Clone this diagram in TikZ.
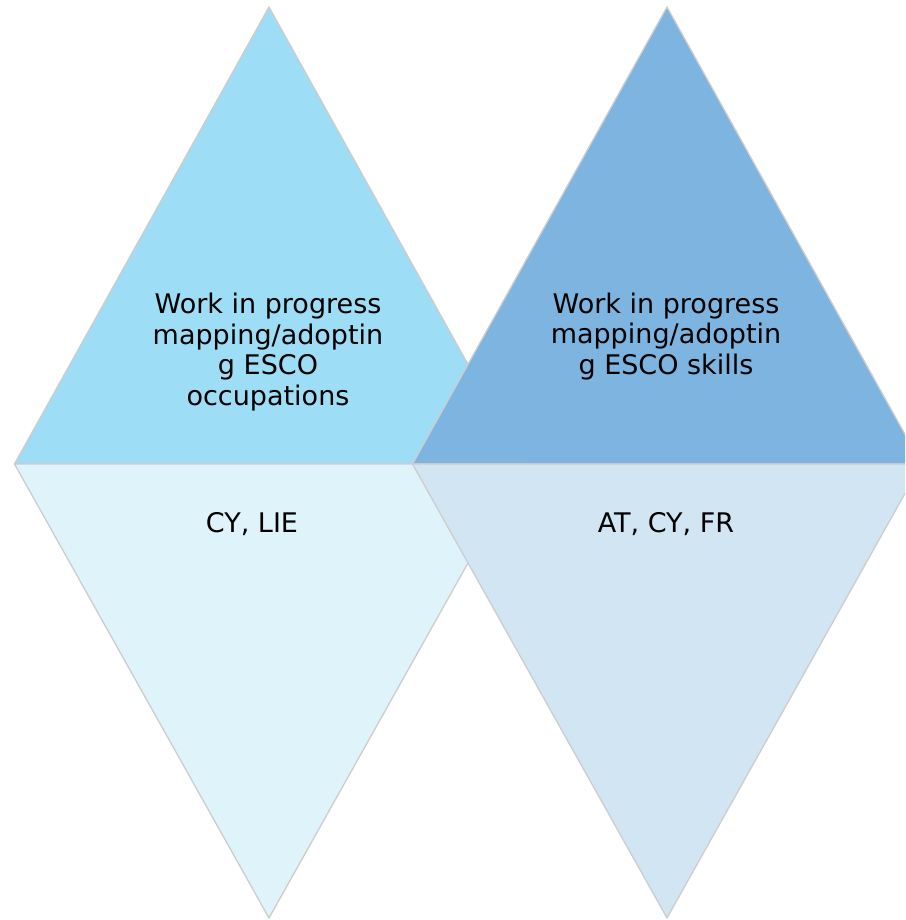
\documentclass[tikz,border=0pt]{standalone}
\usepackage{fontspec}
\setmainfont{DejaVu Sans}
\definecolor{lefttop}{RGB}{157,221,245}
\definecolor{righttop}{RGB}{126,180,224}
\definecolor{leftbot}{RGB}{223,243,250}
\definecolor{rightbot}{RGB}{209,229,243}
\definecolor{edgegray}{RGB}{205,205,205}
\begin{document}
\begin{tikzpicture}[x=1pt,y=-1pt,
    tri/.style={draw=edgegray,line width=1.3pt,line join=round},
    lbl/.style={font=\fontsize{27}{30.5}\selectfont,align=center,inner sep=0pt,text=black}]
    \useasboundingbox (0,0) rectangle (905,920);
    \clip (0,0) rectangle (905,920);

    % upper halves
    \foreach \cx/\col in {269/lefttop, 667/righttop} {
        \draw[tri,fill=\col] (\cx-254.5,464) -- (\cx,7) -- (\cx+254.5,464) -- cycle;
    }
    % lower halves
    \foreach \cx/\col in {269/leftbot, 667/rightbot} {
        \draw[tri,fill=\col] (\cx-254.5,464) -- (\cx,918) -- (\cx+254.5,464) -- cycle;
    }

    \node[lbl] (occup) at (268,352) {Work in progress\\mapping/adoptin\\g ESCO\\occupations};
    \node[lbl] (skills) at (666,336.5) {Work in progress\\mapping/adoptin\\g ESCO skills};
    \node[lbl,anchor=base] (occupC) at (252,532) {CY, LIE};
    \node[lbl,anchor=base] (skillsC) at (666,532) {AT, CY, FR};
\end{tikzpicture}
\end{document}
